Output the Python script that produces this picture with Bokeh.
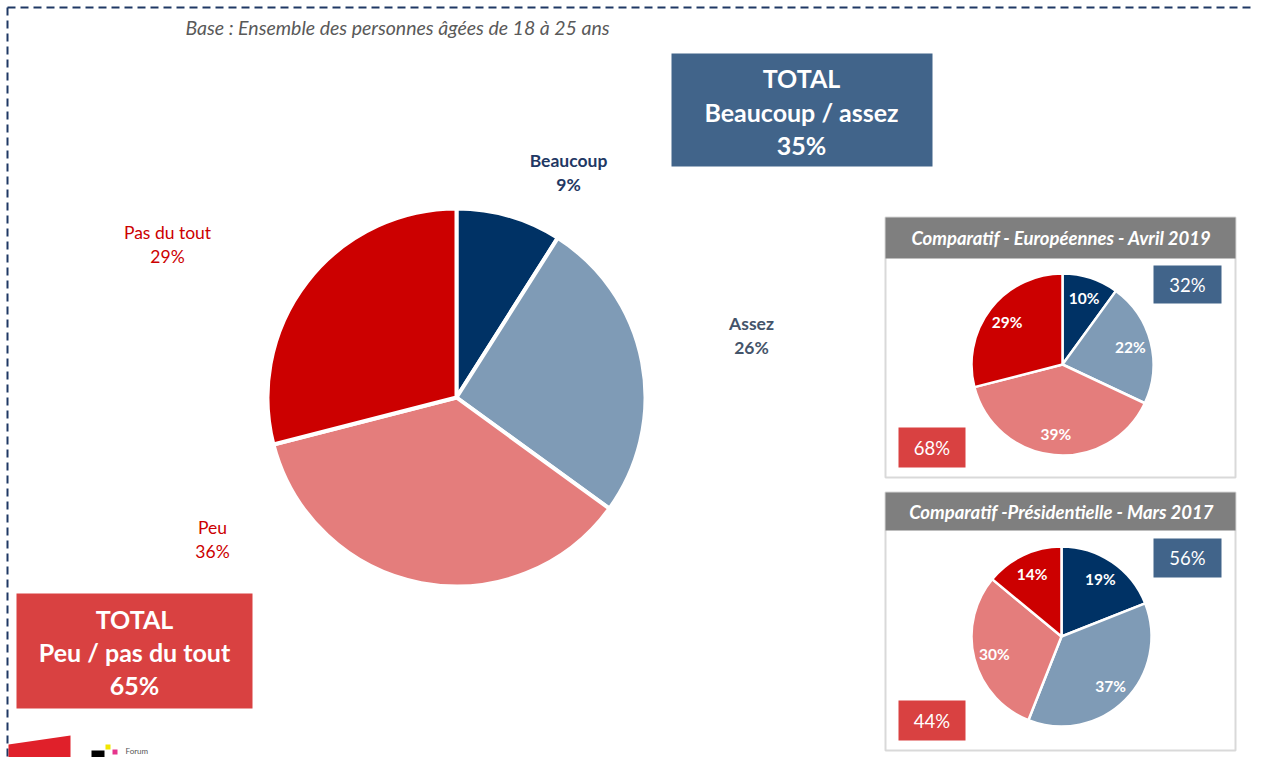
import math
from bokeh.plotting import figure
from bokeh.models import Range1d
from bokeh.core.properties import value
from bokeh.embed import file_html
from bokeh.resources import INLINE

# ---------------- data ----------------
categories = ["Beaucoup", "Assez", "Peu", "Pas du tout"]
main_values = [9, 26, 36, 29]
euro_values = [10, 22, 39, 29]
pres_values = [19, 37, 30, 14]
euro_title = "Comparatif - Européennes - Avril 2019"
pres_title = "Comparatif -Présidentielle - Mars 2017"
base_text = "Base : Ensemble des personnes âgées de 18 à 25 ans"

colors = ["#003265", "#7f9bb6", "#e47d7c", "#cc0000"]
label_colors = ["#1f3864", "#44546a", "#cc0000", "#cc0000"]
BLUE_BOX = "#41648a"
RED_BOX = "#d94141"
FONT = "Lato"

W, H = 1253, 757
p = figure(width=W, height=H, output_backend="svg", toolbar_location=None,
           x_range=Range1d(0, W), y_range=Range1d(765 - H, 765))
p.axis.visible = False
p.grid.visible = False
p.outline_line_color = None
p.min_border = 0
p.background_fill_color = "white"
p.border_fill_color = "white"


def Y(y):
    return 765 - y


def txt(x, y, s, size, color, style="normal", align="center"):
    p.text(x=[x], y=[Y(y)], text=[s], text_font=value(FONT), text_font_size=size,
           text_color=color, text_font_style=style, text_align=align,
           text_baseline="middle")


def pie(cx, cy, r, vals, lw):
    total = float(sum(vals))
    cum = 0.0
    starts, ends = [], []
    for v in vals:
        a0 = cum / total
        cum += v
        a1 = cum / total
        starts.append(math.pi / 2 - 2 * math.pi * a1)
        ends.append(math.pi / 2 - 2 * math.pi * a0)
    p.wedge(x=[cx] * len(vals), y=[Y(cy)] * len(vals), radius=r,
            start_angle=starts, end_angle=ends, fill_color=colors,
            line_color="white", line_width=lw)


def inner_labels(cx, cy, r, vals, frac=0.77):
    total = float(sum(vals))
    cum = 0.0
    for v in vals:
        mid = (cum + v / 2) / total
        cum += v
        ang = 2 * math.pi * mid
        x = cx + frac * r * math.sin(ang)
        y = cy - frac * r * math.cos(ang)
        txt(x, y, f"{v}%", "15.5px", "white", "bold")


# dashed frame
p.line(x=[7, W], y=[Y(7), Y(7)], line_color="#1f3864", line_width=2, line_dash="8 5")
p.line(x=[7, 7], y=[Y(7), Y(765)], line_color="#1f3864", line_width=2, line_dash="8 5")

# base text
txt(397, 27, base_text, "19.5px", "#595959", "italic")

# main pie
pie(456, 397, 189, main_values, 4)
main_label_pos = [(568, 160), (751, 323), (212, 527), (167, 232)]
for (lx, ly), c, v, lc in zip(main_label_pos, categories, main_values, label_colors):
    st = "bold" if lc != "#cc0000" else "normal"
    txt(lx, ly, c, "17.5px", lc, st)
    txt(lx, ly + 24, f"{v}%", "17.5px", lc, st)

# totals main
top_total = main_values[0] + main_values[1]
bot_total = main_values[2] + main_values[3]
p.quad(left=[671], right=[932], top=[Y(53)], bottom=[Y(166)], fill_color=BLUE_BOX, line_color=None)
txt(801, 77, "TOTAL", "25px", "white", "bold")
txt(801, 111, "Beaucoup / assez", "25px", "white", "bold")
txt(801, 144, f"{top_total}%", "25px", "white", "bold")

p.quad(left=[16], right=[252], top=[Y(593)], bottom=[Y(708)], fill_color=RED_BOX, line_color=None)
txt(134, 618, "TOTAL", "25px", "white", "bold")
txt(134, 651, "Peu / pas du tout", "25px", "white", "bold")
txt(134, 684, f"{bot_total}%", "25px", "white", "bold")


# comparison panels
def panel(top, bottom, head_bottom, title, vals, cx, cy, r, box_blue_y, box_red_y):
    p.quad(left=[885], right=[1235], top=[Y(top)], bottom=[Y(bottom)], fill_color="white",
           line_color="#d9d9d9", line_width=2)
    p.quad(left=[885], right=[1235], top=[Y(top)], bottom=[Y(head_bottom)], fill_color="#7f7f7f",
           line_color=None)
    txt(1061, (top + head_bottom) / 2, title, "18.5px", "white", "bold italic")
    pie(cx, cy, r, vals, 2.5)
    inner_labels(cx, cy, r, vals)
    tb = vals[0] + vals[1]
    tr = vals[2] + vals[3]
    p.quad(left=[1153], right=[1221], top=[Y(box_blue_y[0])], bottom=[Y(box_blue_y[1])],
           fill_color=BLUE_BOX, line_color=None)
    txt(1187, sum(box_blue_y) / 2, f"{tb}%", "18.5px", "white")
    p.quad(left=[898], right=[965], top=[Y(box_red_y[0])], bottom=[Y(box_red_y[1])],
           fill_color=RED_BOX, line_color=None)
    txt(931.5, sum(box_red_y) / 2, f"{tr}%", "18.5px", "white")


panel(217, 477, 258, euro_title, euro_values, 1062, 364, 91, (265, 303), (427, 467))
panel(492, 750, 530, pres_title, pres_values, 1061, 636, 90, (538, 577), (700, 740))

# logos (decorative)
p.patch(x=[8, 70, 70, 8], y=[Y(744), Y(735), Y(765), Y(765)], fill_color="#e0202a", line_color=None)
p.quad(left=[91], right=[104], top=[Y(750)], bottom=[Y(765)], fill_color="black", line_color=None)
p.quad(left=[105], right=[110], top=[Y(744)], bottom=[Y(749)], fill_color="#f2e600", line_color=None)
p.quad(left=[112], right=[117], top=[Y(749)], bottom=[Y(754)], fill_color="#e6348c", line_color=None)
txt(125, 750, "Forum", "8px", "#555555", "normal", "left")

open("out.html", "w").write(file_html(p, INLINE))
